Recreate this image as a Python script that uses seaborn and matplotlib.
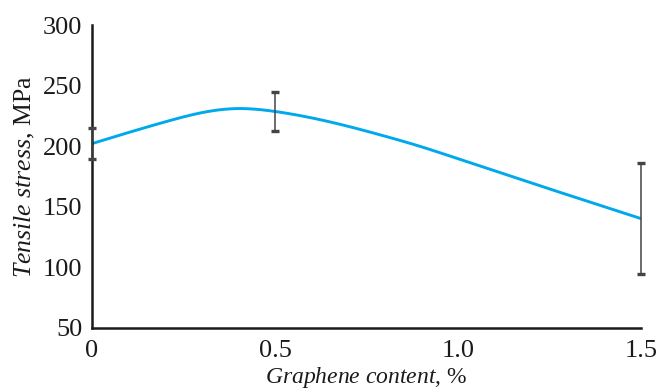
import numpy as np
import pandas as pd
import matplotlib
matplotlib.use("Agg")
import matplotlib.pyplot as plt
import seaborn as sns

# Measured points with standard deviation
content = [0.0, 0.5, 1.5]
stress_mean = [202.0, 228.6, 140.0]
stress_err = [13.0, 16.5, 46.0]

# Knots of the smoothed trend of tensile stress vs. graphene content
trend_x = [0.0, 0.1, 0.2, 0.3, 0.4, 0.5, 0.6, 0.7, 0.8, 0.9, 1.0, 1.1, 1.2, 1.3, 1.4, 1.5]
trend_y = [202.0, 211.2, 220.0, 227.6, 231.0, 228.6, 223.3, 216.3, 208.2, 199.4,
           189.5, 179.5, 169.5, 159.6, 149.8, 140.0]


def natural_spline(xk, yk, n=400):
    """Natural cubic spline through the knots, sampled for a smooth line."""
    xk = np.asarray(xk, float)
    yk = np.asarray(yk, float)
    m = len(xk)
    h = np.diff(xk)
    A = np.zeros((m, m))
    r = np.zeros(m)
    A[0, 0] = A[-1, -1] = 1.0
    for i in range(1, m - 1):
        A[i, i - 1] = h[i - 1]
        A[i, i] = 2 * (h[i - 1] + h[i])
        A[i, i + 1] = h[i]
        r[i] = 6 * ((yk[i + 1] - yk[i]) / h[i] - (yk[i] - yk[i - 1]) / h[i - 1])
    M = np.linalg.solve(A, r)
    xs = np.linspace(xk[0], xk[-1], n)
    idx = np.clip(np.searchsorted(xk, xs) - 1, 0, m - 2)
    x0, x1 = xk[idx], xk[idx + 1]
    hh = x1 - x0
    t0, t1 = x1 - xs, xs - x0
    ys = (M[idx] * t0 ** 3 + M[idx + 1] * t1 ** 3) / (6 * hh) \
        + (yk[idx] / hh - M[idx] * hh / 6) * t0 \
        + (yk[idx + 1] / hh - M[idx + 1] * hh / 6) * t1
    return xs, ys


sns.set_style("white")
plt.rcParams["font.family"] = ["Liberation Serif", "DejaVu Serif"]
plt.rcParams["mathtext.fontset"] = "custom"
plt.rcParams["mathtext.rm"] = "Liberation Serif"
plt.rcParams["mathtext.it"] = "Liberation Serif:italic"

fig = plt.figure(figsize=(6.61, 3.92), dpi=100)
ax = fig.add_axes([0.139, 0.1645, 0.831, 0.7715])

sx, sy = natural_spline(trend_x, trend_y)
trend = pd.DataFrame({"x": sx, "y": sy})
sns.lineplot(data=trend, x="x", y="y", ax=ax, color="#00a9ec", linewidth=2.1,
             sort=True, estimator=None)

eb = ax.errorbar(content, stress_mean, yerr=stress_err, fmt="none", ecolor="#444444",
                 elinewidth=1.1, capsize=2.6, capthick=2.4, zorder=3)
for cap in eb[1]:
    cap.set_color("#111111")
    cap.set_clip_on(False)
for col in eb[2]:
    col.set_clip_on(False)

ax.set_xlim(0, 1.5)
ax.set_ylim(50, 300)
ax.set_xticks([0, 0.5, 1.0, 1.5])
ax.set_xticklabels(["0", "0.5", "1.0", "1.5"])
ax.set_yticks([50, 100, 150, 200, 250, 300])

for side in ("top", "right"):
    ax.spines[side].set_visible(False)
for side in ("left", "bottom"):
    ax.spines[side].set_color("#1a1a1a")
    ax.spines[side].set_linewidth(1.8)

ax.tick_params(axis="both", direction="in", length=5.5, width=1.2, colors="#1a1a1a",
               labelsize=19, labelcolor="#1a1a1a")
ax.tick_params(axis="x", pad=9)
ax.tick_params(axis="y", pad=7)

ax.set_xlabel(r"$\it{Graphene\ content}$, %", fontsize=17, color="#1a1a1a", labelpad=2)
ax.set_ylabel(r"$\it{Tensile\ stress}$, MPa", fontsize=18.5, color="#1a1a1a", labelpad=4)

fig.savefig("out.png", dpi=100)
